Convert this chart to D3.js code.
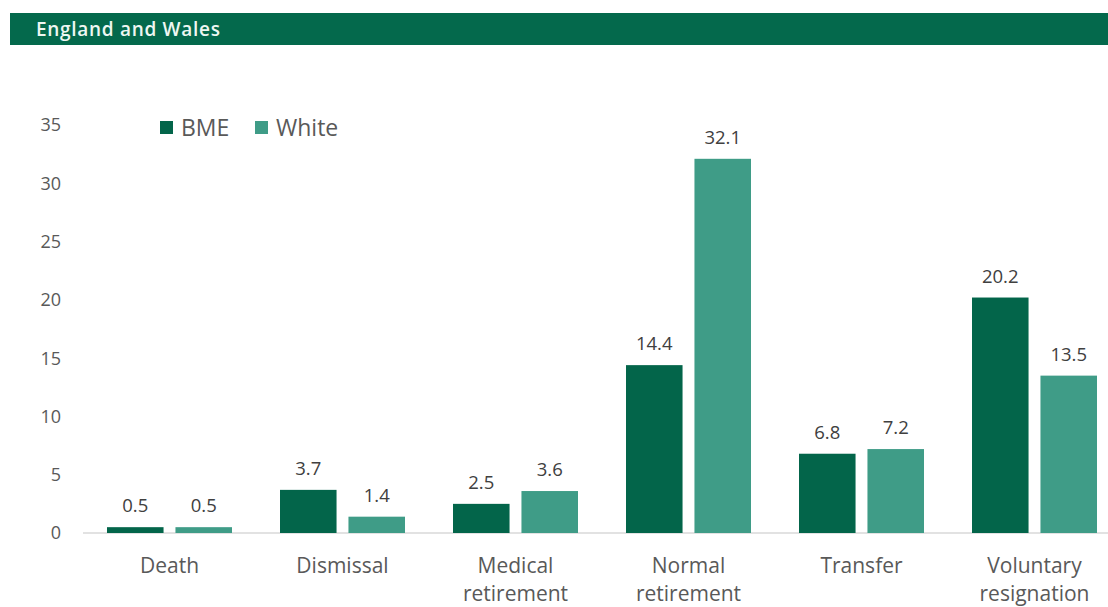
<!DOCTYPE html>
<html>
<head>
<meta charset="utf-8">
<script src="https://cdn.jsdelivr.net/npm/d3@7"></script>
<style>
  body { margin: 0; background: #fff; }
  svg { display: block; }
</style>
</head>
<body>
<svg id="chart" width="1108" height="607"></svg>
<script>
// Data
const categories = [["Death"], ["Dismissal"], ["Medical", "retirement"], ["Normal", "retirement"], ["Transfer"], ["Voluntary", "resignation"]];
const seriesNames = ["BME", "White"];
const bmeValues = [0.5, 3.7, 2.5, 14.4, 6.8, 20.2];
const whiteValues = [0.5, 1.4, 3.6, 32.1, 7.2, 13.5];
const yTicks = [0, 5, 10, 15, 20, 25, 30, 35];

const colors = ["#03654a", "#3f9c87"];
const font = "'Open Sans', sans-serif";

var svg = d3.select("#chart");

// Header bar
svg.append("rect")
    .attr("x", 10).attr("y", 13)
    .attr("width", 1098).attr("height", 32)
    .attr("fill", "#04694c");
svg.append("text")
    .attr("x", 36).attr("y", 36)
    .attr("fill", "#eef7f2")
    .attr("font-family", font)
    .attr("font-size", 19)
    .attr("font-weight", 600)
    .attr("letter-spacing", 0.7)
    .text("England and Wales");

// Scales
const x0 = d3.scaleBand()
    .domain(d3.range(categories.length))
    .range([83, 1121]);

// bars inside each category: 24px outer gap, ~12px between
const xs = d3.scaleBand()
    .domain(seriesNames)
    .range([24, 149])
    .paddingInner(0.174)
    .paddingOuter(0);

const y = d3.scaleLinear()
    .domain([0, 35])
    .range([533, 125]);

// Y axis tick labels
svg.append("g")
    .selectAll("text")
    .data(yTicks)
    .join("text")
    .attr("x", 61)
    .attr("y", d => y(d))
    .attr("dy", "0.36em")
    .attr("text-anchor", "end")
    .attr("fill", "#595959")
    .attr("font-family", font)
    .attr("font-size", 18)
    .text(d => d);

// Baseline
svg.append("line")
    .attr("x1", 83).attr("x2", 1108)
    .attr("y1", y(0)).attr("y2", y(0))
    .attr("stroke", "#d9d9d9")
    .attr("stroke-width", 1.5);

// Bars
const rows = categories.map((c, i) => ({ i: i, values: [bmeValues[i], whiteValues[i]] }));

const groups = svg.append("g")
    .selectAll("g")
    .data(rows)
    .join("g")
    .attr("transform", d => `translate(${x0(d.i)},0)`);

groups.selectAll("rect")
    .data(d => d.values.map((v, k) => ({ name: seriesNames[k], v: v, k: k })))
    .join("rect")
    .attr("x", d => xs(d.name))
    .attr("width", xs.bandwidth())
    .attr("y", d => y(d.v))
    .attr("height", d => y(0) - y(d.v))
    .attr("fill", d => colors[d.k]);

groups.selectAll("text.val")
    .data(d => d.values.map((v, k) => ({ name: seriesNames[k], v: v, k: k })))
    .join("text")
    .attr("class", "val")
    .attr("x", d => xs(d.name) + xs.bandwidth() / 2)
    .attr("y", d => y(d.v) - 15)
    .attr("text-anchor", "middle")
    .attr("fill", "#404040")
    .attr("font-family", font)
    .attr("font-size", 18.5)
    .text(d => d.v.toFixed(1));

// Category labels
svg.append("g")
    .selectAll("text")
    .data(categories)
    .join("text")
    .attr("x", (d, i) => x0(i) + x0.bandwidth() / 2)
    .attr("y", 573)
    .attr("text-anchor", "middle")
    .attr("fill", "#595959")
    .attr("font-family", font)
    .attr("font-size", 21)
    .selectAll("tspan")
    .data(d => d)
    .join("tspan")
    .attr("x", function() { return d3.select(this.parentNode).attr("x"); })
    .attr("dy", (d, i) => i === 0 ? 0 : 28)
    .text(d => d);

// Legend
const legendX = [160, 255];
const legend = svg.append("g")
    .selectAll("g")
    .data(seriesNames)
    .join("g")
    .attr("transform", (d, i) => `translate(${legendX[i]},121)`);
legend.append("rect")
    .attr("width", 13).attr("height", 13)
    .attr("fill", (d, i) => colors[i]);
legend.append("text")
    .attr("x", 21).attr("y", 7)
    .attr("dy", "0.36em")
    .attr("fill", "#595959")
    .attr("font-family", font)
    .attr("font-size", 23)
    .text(d => d);
</script>
</body>
</html>
